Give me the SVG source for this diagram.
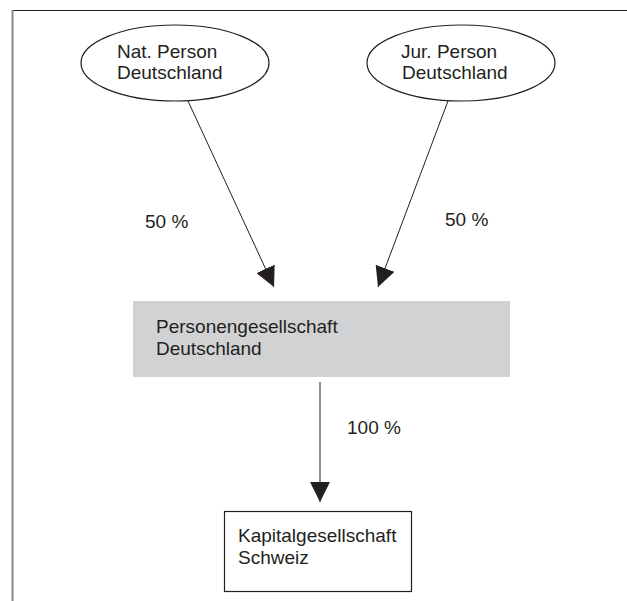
<svg xmlns="http://www.w3.org/2000/svg" width="627" height="601" viewBox="0 0 627 601">
  <style>
    text { font-family: "Liberation Sans", Arial, Helvetica, sans-serif; font-size: 19px; fill: #231f20; }
    .node { stroke: #231f20; stroke-width: 1.2; }
    .conn { stroke: #231f20; stroke-width: 1; fill: none; }
  </style>
  <defs>
    <marker id="arrow" markerUnits="userSpaceOnUse" markerWidth="20" markerHeight="20" refX="20" refY="10" orient="auto" viewBox="0 0 20 20">
      <path d="M0,0 L20,10 L0,20 z" fill="#231f20"/>
    </marker>
  </defs>
  <rect width="627" height="601" fill="#ffffff"/>
  <g id="frame">
    <line x1="12" y1="10.5" x2="627" y2="10.5" stroke="#231f20" stroke-width="1"/>
    <line x1="12.5" y1="10" x2="12.5" y2="601" stroke="#8a8a8a" stroke-width="2"/>
  </g>
  <g id="connectors">
    <line class="conn" x1="188" y1="101" x2="274" y2="287" marker-end="url(#arrow)"/>
    <line class="conn" x1="448" y1="101" x2="378" y2="287" marker-end="url(#arrow)"/>
    <line class="conn" x1="320" y1="382" x2="320" y2="502" marker-end="url(#arrow)"/>
    <text x="145" y="228">50 %</text>
    <text x="445" y="226">50 %</text>
    <text x="347" y="434">100 %</text>
  </g>
  <g id="nat-person">
    <ellipse class="node" cx="175" cy="63" rx="94" ry="38" fill="#ffffff"/>
    <text x="117" y="58">Nat. Person</text>
    <text x="117" y="79">Deutschland</text>
  </g>
  <g id="jur-person">
    <ellipse class="node" cx="461" cy="63" rx="94" ry="38" fill="#ffffff"/>
    <text x="401" y="58">Jur. Person</text>
    <text x="402" y="79">Deutschland</text>
  </g>
  <g id="personengesellschaft">
    <rect x="133" y="301" width="377" height="76" fill="#d1d2d4"/>
    <text x="156" y="333">Personengesellschaft</text>
    <text x="156" y="355">Deutschland</text>
  </g>
  <g id="kapitalgesellschaft">
    <rect class="node" x="224.5" y="511.5" width="187" height="80" fill="#ffffff"/>
    <text x="238" y="542">Kapitalgesellschaft</text>
    <text x="238" y="564">Schweiz</text>
  </g>
</svg>
